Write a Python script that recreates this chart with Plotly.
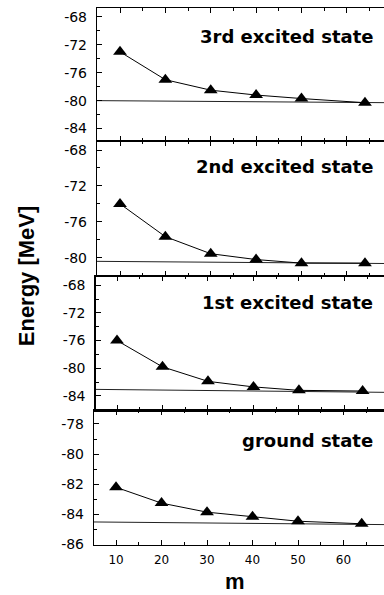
import plotly.graph_objects as go

# ---- data ----
m_values = [10, 20, 30, 40, 50, 64]
e_3rd = [-73.0, -77.0, -78.5, -79.2, -79.7, -80.3]
e_2nd = [-74.0, -77.65, -79.55, -80.2, -80.6, -80.6]
e_1st = [-76.0, -79.8, -81.9, -82.7, -83.2, -83.3]
e_ground = [-82.2, -83.25, -83.85, -84.15, -84.45, -84.62]

# asymptotic (reference) energies, left and right end of the thin line
ref_3rd = [-80.0, -80.3]
ref_2nd = [-80.4, -80.65]
ref_1st = [-83.06, -83.5]
ref_ground = [-84.5, -84.68]

state_labels = ["3rd excited state", "2nd excited state", "1st excited state", "ground state"]

yticks_a = [-84, -80, -76, -72, -68]
yticks_a_text = ["-84", "-80", "-76", "-72", "-68"]
yticks_b = [-80, -76, -72, -68]
yticks_b_text = ["-80", "-76", "-72", "-68"]
yticks_g = [-86, -84, -82, -80, -78]
yticks_g_text = ["-86", "-84", "-82", "-80", "-78"]
xticks = [10, 20, 30, 40, 50, 60]
xticks_text = ["10", "20", "30", "40", "50", "60"]

series = [e_3rd, e_2nd, e_1st, e_ground]
refs = [ref_3rd, ref_2nd, ref_1st, ref_ground]

# ---- layout geometry (pixels; the frame runs past the right edge of the 384 px view) ----
W, H = 394, 595
panel_px = [(8, 143), (143, 280), (280, 416), (416, 552)]
left_px = [97, 97, 95.5, 94]
x_ranges = [[4.93, 70.4], [4.93, 70.4], [5.27, 70.9], [5.16, 71.1]]
y_ranges = [[-85.8, -66.7], [-82.06, -67.0], [-86.1, -66.7], [-86.0, -77.1]]
y_ticks = [(yticks_a, yticks_a_text, 2), (yticks_b, yticks_b_text, 2),
           (yticks_a, yticks_a_text, 2), (yticks_g, yticks_g_text, 1)]
label_y_px = [36.5, 168.8, 307, 446]

fig = go.Figure()
tick_font = dict(family="DejaVu Sans", size=14, color="black")

for i in range(4):
    n = "" if i == 0 else str(i + 1)
    xa, ya = "x" + n, "y" + n
    fig.add_trace(go.Scatter(
        x=m_values, y=series[i], xaxis=xa, yaxis=ya, mode="lines+markers",
        line=dict(color="black", width=1),
        marker=dict(symbol="triangle-up", size=12, color="black"),
        showlegend=False, cliponaxis=False, hoverinfo="skip"))
    fig.add_shape(type="line", xref=xa + " domain", yref=ya,
                  x0=0, x1=1, y0=refs[i][0], y1=refs[i][1],
                  line=dict(color="#222", width=1), layer="below")
    top, bot = panel_px[i]
    tv, tt, minor_dt = y_ticks[i]
    fig.layout["xaxis" + n] = dict(
        domain=[left_px[i] / W, 1], range=x_ranges[i], anchor=ya,
        showline=True, linecolor="black", linewidth=1.2, mirror="ticks",
        ticks="inside", ticklen=5, tickcolor="black",
        tickvals=xticks, ticktext=xticks_text, ticklabelstandoff=4,
        showticklabels=(i == 3), tickfont=dict(family="DejaVu Sans", size=12, color="black"),
        minor=dict(ticks="inside", ticklen=3, dtick=5, tick0=0, tickcolor="black"),
        showgrid=False, zeroline=False, fixedrange=True)
    fig.layout["yaxis" + n] = dict(
        domain=[1 - bot / H, 1 - top / H], range=y_ranges[i], anchor=xa,
        showline=True, linecolor="black", linewidth=1.2,
        ticks="inside", ticklen=5, tickcolor="black",
        tickvals=tv, ticktext=tt, tickfont=tick_font, ticklabelstandoff=6,
        minor=dict(ticks="inside", ticklen=3, dtick=minor_dt, tick0=0, tickcolor="black"),
        showgrid=False, zeroline=False, fixedrange=True)
    fig.add_annotation(text="<b>" + state_labels[i] + "</b>", xref="paper", yref="paper",
                       x=375 / W, y=1 - label_y_px[i] / H, xanchor="right", yanchor="middle",
                       showarrow=False, font=dict(family="DejaVu Sans", size=18, color="black"))

fig.add_annotation(text="<b>Energy [MeV]</b>", xref="paper", yref="paper",
                   x=26 / W, y=1 - 280 / H, xanchor="center", yanchor="middle",
                   textangle=-90, showarrow=False,
                   font=dict(family="Liberation Sans", size=22, color="black"))
fig.add_annotation(text="<b>m</b>", xref="paper", yref="paper",
                   x=234.5 / W, y=1 - 589 / H, xanchor="center", yanchor="middle",
                   showarrow=False,
                   font=dict(family="Liberation Sans", size=22, color="black"))

fig.update_layout(width=W, height=H, margin=dict(l=0, r=0, t=0, b=0),
                  paper_bgcolor="white", plot_bgcolor="white", hovermode=False)
fig.write_html("out.html", config={"displayModeBar": False, "staticPlot": True},
               post_script="document.body.style.margin='0';document.body.style.overflow='hidden';")
